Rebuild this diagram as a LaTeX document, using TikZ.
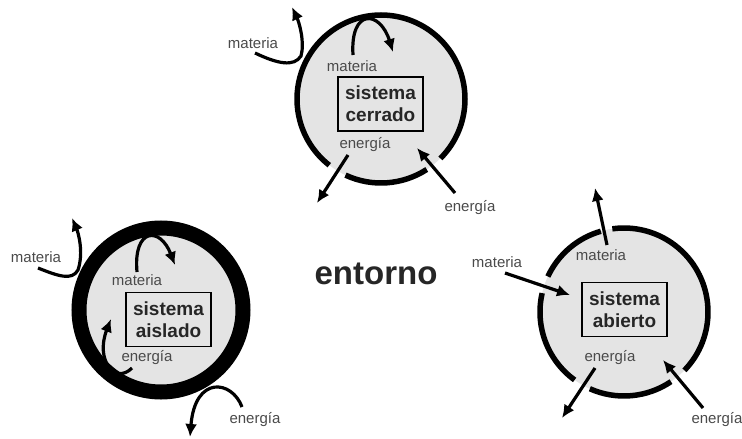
\documentclass[tikz,border=0pt]{standalone}
\usepackage{fontspec}
\setmainfont{Liberation Sans}
\usetikzlibrary{arrows.meta}
\definecolor{sysfill}{HTML}{E4E4E4}
\definecolor{lblgray}{HTML}{4A4A4A}
\begin{document}
\begin{tikzpicture}[x=1pt,y=-1pt,
  lbl/.style={font=\fontsize{15}{17}\selectfont, text=lblgray, inner sep=0pt},
  sysbox/.style={draw, line width=1.2pt, align=center,
    font=\bfseries\fontsize{19}{22}\selectfont, text=black!85,
    minimum width=85pt, minimum height=54pt, inner sep=0pt},
  flow/.style={line width=3.2pt, -{Latex[length=13pt,width=12pt]}},
  thinring/.style={line width=5.5pt},
  thickring/.style={line width=15pt},
]
\useasboundingbox (0,0) rectangle (742,439);

% ---------- sistema cerrado ----------
\coordinate (c1) at (381,99);
\fill[sysfill] (c1) circle[radius=84];
\draw[thinring] (c1) ++(-245:84) arc[start angle=-245, end angle=-303, radius=84];
\draw[thinring] (c1) ++(-315:84) arc[start angle=-315, end angle=-592, radius=84];
\node[sysbox] (b1) at (380.5,104) {sistema\\cerrado};
\node[lbl] (m1o) at (253,43) {materia};
\node[lbl] (m1i) at (352,66) {materia};
\node[lbl] (e1i) at (365,145) {energía};
\node[lbl] (e1o) at (470,208) {energía};
\coordinate (a1s) at (255,53);  \coordinate (a1m) at (301,56); \coordinate (a1t) at (292,7);
\coordinate (a2s) at (353,55);  \coordinate (a2t) at (393,52);
\coordinate (a3s) at (348,155); \coordinate (a3t) at (317,203);
\coordinate (a4s) at (455,193); \coordinate (a4t) at (417,148);
\draw[flow] (a1s) .. controls (278,64) and (294,67) .. (a1m)
                  .. controls (305,42) and (299,22) .. (a1t);
\draw[flow] (a2s) .. controls (350,8) and (380,10) .. (a2t);
\draw[flow] (a3s) -- (a3t);
\draw[flow] (a4s) -- (a4t);

% ---------- sistema aislado ----------
\coordinate (c2) at (161,310);
\fill[sysfill] (c2) circle[radius=82];
\draw[thickring] (c2) circle[radius=82];
\node[sysbox] (b2) at (168.5,319.5) {sistema\\aislado};
\node[lbl] (m2o) at (36,257) {materia};
\node[lbl] (m2i) at (137,280) {materia};
\node[lbl] (e2i) at (147,358) {energía};
\node[lbl] (e2o) at (255,420) {energía};
\coordinate (d1s) at (38,268); \coordinate (d1m) at (78,270); \coordinate (d1t) at (72,218);
\coordinate (d2s) at (137,272); \coordinate (d2t) at (175,265);
\coordinate (d3s) at (132,368); \coordinate (d3t) at (111,319);
\coordinate (d4s) at (242,407); \coordinate (d4t) at (190,437);
\draw[flow] (d1s) .. controls (58,276) and (72,281) .. (d1m)
                  .. controls (84,252) and (78,232) .. (d1t);
\draw[flow] (d2s) .. controls (133,228) and (160,226) .. (d2t);
\draw[flow] (d3s) .. controls (115,385) and (95,360) .. (d3t);
\draw[flow] (d4s) .. controls (232,380) and (195,375) .. (d4t);

% ---------- sistema abierto ----------
\coordinate (c3) at (624,312);
\fill[sysfill] (c3) circle[radius=84];
\draw[thinring] (c3) ++(-106:84) arc[start angle=-106, end angle=-155, radius=84];
\draw[thinring] (c3) ++(-167:84) arc[start angle=-167, end angle=-234, radius=84];
\draw[thinring] (c3) ++(-246:84) arc[start angle=-246, end angle=-304, radius=84];
\draw[thinring] (c3) ++(-316:84) arc[start angle=-316, end angle=-458, radius=84];
\node[sysbox] (b3) at (624.5,309.5) {sistema\\abierto};
\node[lbl] (m3o) at (497,262) {materia};
\node[lbl] (m3i) at (601,255) {materia};
\node[lbl] (e3i) at (610,358) {energía};
\node[lbl] (e3o) at (717,420) {energía};
\coordinate (f1s) at (505,273); \coordinate (f1t) at (570,295);
\coordinate (f2s) at (607,245); \coordinate (f2t) at (595,188);
\coordinate (f3s) at (595,368); \coordinate (f3t) at (562,418);
\coordinate (f4s) at (703,408); \coordinate (f4t) at (663,360);
\draw[flow] (f1s) -- (f1t);
\draw[flow] (f2s) -- (f2t);
\draw[flow] (f3s) -- (f3t);
\draw[flow] (f4s) -- (f4t);

% ---------- entorno ----------
\node[font=\bfseries\fontsize{33}{36}\selectfont, text=black!85, inner sep=0pt] (ent) at (376,274) {entorno};
\end{tikzpicture}
\end{document}
